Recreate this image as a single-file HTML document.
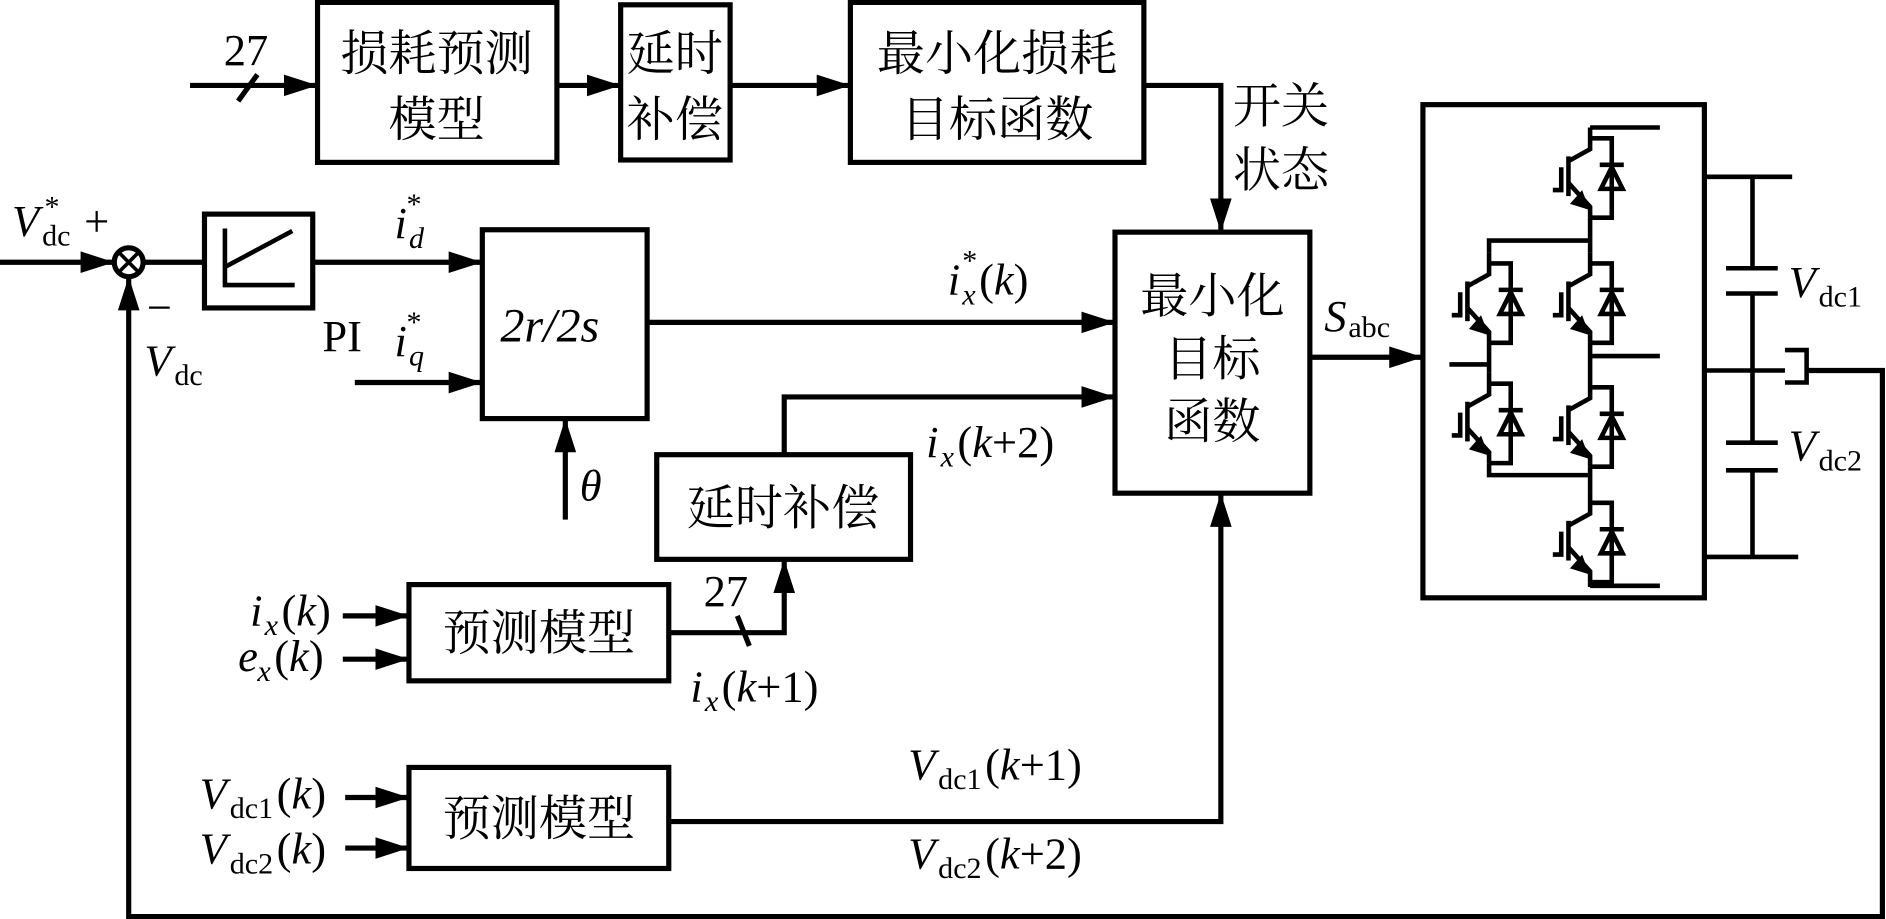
<!DOCTYPE html>
<html><head><meta charset="utf-8"><style>
html,body{margin:0;padding:0;background:#fff;width:1886px;height:919px;overflow:hidden}
svg{display:block}
text{font-family:"Liberation Serif","Noto Serif CJK SC","Noto Sans CJK SC",serif;fill:#000}
.cn{font-family:"Liberation Serif","Noto Serif CJK SC","Noto Sans CJK SC",serif;font-size:40px}
.m{font-size:37px}
.i{font-style:italic}
.s{font-size:25px}
</style></head><body>
<svg width="1886" height="919" viewBox="0 0 1568 764" preserveAspectRatio="none" xmlns="http://www.w3.org/2000/svg">
<defs>
<marker id="a" markerWidth="30" markerHeight="20" refX="28" refY="9" orient="auto" markerUnits="userSpaceOnUse"><path d="M0,0 L28,9 L0,18 Z" fill="#000"/></marker>
<g id="igbt" fill="none" stroke="#000" stroke-width="3.8">
<path d="M0,0 V18 L-18,28"/><path d="M-18,24 V57"/><path d="M-24,33 V52 H-31"/>
<path d="M-18,46 L0,66 V75"/><path d="M-15,63 L-2,67 L-7,54 Z" fill="#000" stroke-width="2"/>
<path d="M0,9 H18 V75 H0"/><path d="M8,31 H28"/><path d="M18,33 L9,51 H27 Z"/>
</g>
</defs>
<g fill="none" stroke="#000" stroke-width="4.3">
<rect x="264" y="2" width="199" height="133"/>
<rect x="516" y="4" width="91" height="129"/>
<rect x="707" y="2" width="244" height="133"/>
<line x1="158" y1="71" x2="264" y2="71" marker-end="url(#a)"/>
<line x1="198" y1="84" x2="214" y2="62"/>
<line x1="463" y1="71" x2="516" y2="71" marker-end="url(#a)"/>
<line x1="607" y1="71" x2="707" y2="71" marker-end="url(#a)"/>
<polyline points="951,71 1015,71 1015,193" marker-end="url(#a)"/>
<rect x="927" y="193" width="162" height="217"/>
<line x1="1089" y1="297" x2="1183" y2="297" marker-end="url(#a)"/>
<line x1="0" y1="218" x2="95" y2="218" marker-end="url(#a)"/>
<circle cx="107" cy="218" r="12"/>
<line x1="99" y1="210" x2="115" y2="226" stroke-width="3"/><line x1="115" y1="210" x2="99" y2="226" stroke-width="3"/>
<line x1="119" y1="218" x2="170" y2="218"/>
<rect x="170" y="178" width="90" height="78"/>
<polyline points="187,190 187,237 245,237" stroke-width="3.8"/><line x1="187" y1="222" x2="243" y2="192" stroke-width="3.8"/>
<line x1="260" y1="218" x2="401" y2="218" marker-end="url(#a)"/>
<rect x="401" y="191" width="137" height="157"/>
<line x1="295" y1="318" x2="401" y2="318" marker-end="url(#a)"/>
<line x1="470" y1="432" x2="470" y2="348" marker-end="url(#a)"/>
<line x1="538" y1="268" x2="927" y2="268" marker-end="url(#a)"/>
<rect x="546" y="378" width="211" height="87"/>
<polyline points="652,378 652,330 927,330" marker-end="url(#a)"/>
<rect x="340" y="486" width="216" height="80"/>
<line x1="285" y1="512" x2="340" y2="512" marker-end="url(#a)"/>
<line x1="285" y1="548" x2="340" y2="548" marker-end="url(#a)"/>
<polyline points="556,526 652,526 652,465" marker-end="url(#a)"/>
<line x1="613" y1="512" x2="623" y2="537"/>
<rect x="340" y="638" width="216" height="84"/>
<line x1="287" y1="663" x2="340" y2="663" marker-end="url(#a)"/>
<line x1="287" y1="705" x2="340" y2="705" marker-end="url(#a)"/>
<polyline points="556,683 1015,683 1015,410" marker-end="url(#a)"/>
<polyline points="1502,308 1565,308 1565,762 107,762 107,230" marker-end="url(#a)"/>
<rect x="1183" y="87" width="234" height="410"/>
<g stroke-width="3.8">
<line x1="1322" y1="106" x2="1380" y2="106"/>
<line x1="1322" y1="181" x2="1322" y2="210"/>
<line x1="1322" y1="285" x2="1322" y2="313"/>
<line x1="1322" y1="388" x2="1322" y2="409"/>
<line x1="1322" y1="296" x2="1380" y2="296"/>
<line x1="1322" y1="484" x2="1322" y2="488"/><line x1="1322" y1="487" x2="1380" y2="487"/>
<polyline points="1322,200 1238,200 1238,210"/>
<line x1="1238" y1="285" x2="1238" y2="310"/>
<line x1="1205" y1="303" x2="1238" y2="303"/>
<polyline points="1238,385 1238,395 1322,395"/>
<line x1="1417" y1="147" x2="1490" y2="147"/>
<line x1="1457" y1="147" x2="1457" y2="223"/>
<line x1="1435" y1="223" x2="1478" y2="223"/><line x1="1435" y1="244" x2="1478" y2="244"/>
<line x1="1457" y1="244" x2="1457" y2="368"/>
<line x1="1417" y1="308" x2="1484" y2="308"/>
<line x1="1435" y1="368" x2="1478" y2="368"/><line x1="1435" y1="391" x2="1478" y2="391"/>
<line x1="1457" y1="391" x2="1457" y2="463"/>
<line x1="1417" y1="463" x2="1495" y2="463"/>
<polyline points="1484,291 1502,291 1502,318 1484,318"/>
</g>
</g>
<use href="#igbt" x="1322" y="106"/>
<use href="#igbt" x="1322" y="210"/>
<use href="#igbt" x="1322" y="313"/>
<use href="#igbt" x="1322" y="409"/>
<use href="#igbt" x="1238" y="210"/>
<use href="#igbt" x="1238" y="310"/>
<text x="186" y="54" class="m">27</text>
<text x="363" y="58" class="cn" text-anchor="middle">损耗预测</text>
<text x="363" y="113" class="cn" text-anchor="middle">模型</text>
<text x="561" y="58" class="cn" text-anchor="middle">延时</text>
<text x="561" y="113" class="cn" text-anchor="middle">补偿</text>
<text x="829" y="58" class="cn" text-anchor="middle">最小化损耗</text>
<text x="829" y="113" class="cn" text-anchor="middle">目标函数</text>
<text x="1025" y="102" class="cn">开关</text>
<text x="1025" y="155" class="cn">状态</text>
<text x="1008" y="260" class="cn" text-anchor="middle">最小化</text>
<text x="1008" y="312" class="cn" text-anchor="middle">目标</text>
<text x="1008" y="364" class="cn" text-anchor="middle">函数</text>
<text x="1101" y="275" class="m i">S</text><text x="1121" y="280" class="s">abc</text>
<text x="10" y="196" class="m i">V</text><text x="35" y="204" class="s">dc</text><text x="37" y="180" class="s">*</text><text x="70" y="196" class="m">+</text>
<text x="122" y="268" class="m">−</text>
<text x="120" y="312" class="m i">V</text><text x="145" y="320" class="s">dc</text>
<text x="268" y="292" class="m">PI</text>
<text x="328" y="198" class="m i">i</text><text x="340" y="206" class="s i">d</text><text x="338" y="178" class="s">*</text>
<text x="328" y="296" class="m i">i</text><text x="340" y="304" class="s i">q</text><text x="338" y="276" class="s">*</text>
<text x="416" y="284" class="i" font-size="40">2r/2s</text>
<text x="482" y="416" class="m i">θ</text>
<text x="788" y="245" class="m i">i</text><text x="800" y="253" class="s i">x</text><text x="800" y="225" class="s">*</text><text x="814" y="245" class="m">(<tspan font-style="italic">k</tspan>)</text>
<text x="770" y="380" class="m i">i</text><text x="782" y="388" class="s i">x</text><text x="796" y="380" class="m">(<tspan font-style="italic">k</tspan>+2)</text>
<text x="651" y="436" class="cn" text-anchor="middle">延时补偿</text>
<text x="448" y="540" class="cn" text-anchor="middle">预测模型</text>
<text x="448" y="694" class="cn" text-anchor="middle">预测模型</text>
<text x="208" y="520" class="m i">i</text><text x="220" y="528" class="s i">x</text><text x="234" y="520" class="m">(<tspan font-style="italic">k</tspan>)</text>
<text x="198" y="558" class="m i">e</text><text x="214" y="566" class="s i">x</text><text x="228" y="558" class="m">(<tspan font-style="italic">k</tspan>)</text>
<text x="585" y="504" class="m">27</text>
<text x="574" y="583" class="m i">i</text><text x="586" y="591" class="s i">x</text><text x="600" y="583" class="m">(<tspan font-style="italic">k</tspan>+1)</text>
<text x="166" y="672" class="m i">V</text><text x="191" y="680" class="s">dc1</text><text x="230" y="672" class="m">(<tspan font-style="italic">k</tspan>)</text>
<text x="166" y="718" class="m i">V</text><text x="191" y="726" class="s">dc2</text><text x="230" y="718" class="m">(<tspan font-style="italic">k</tspan>)</text>
<text x="755" y="648" class="m i">V</text><text x="780" y="656" class="s">dc1</text><text x="819" y="648" class="m">(<tspan font-style="italic">k</tspan>+1)</text>
<text x="755" y="722" class="m i">V</text><text x="780" y="730" class="s">dc2</text><text x="819" y="722" class="m">(<tspan font-style="italic">k</tspan>+2)</text>
<text x="1487" y="247" class="m i">V</text><text x="1512" y="255" class="s">dc1</text>
<text x="1487" y="383" class="m i">V</text><text x="1512" y="391" class="s">dc2</text>
</svg>
</body></html>
